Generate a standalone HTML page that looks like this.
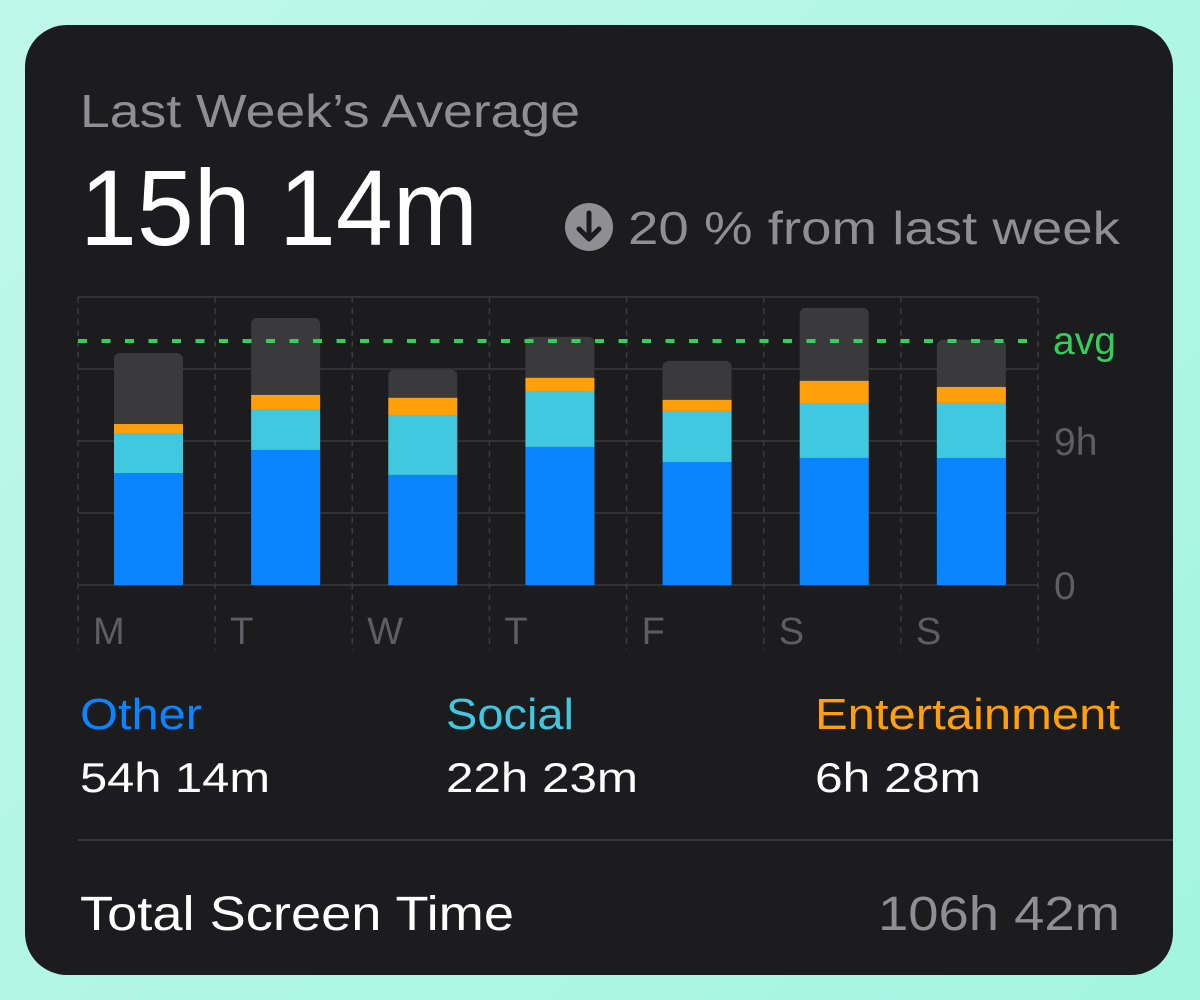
<!DOCTYPE html>
<html><head><meta charset="utf-8"><style>
html,body{margin:0;padding:0;width:1200px;height:1000px;overflow:hidden;background:linear-gradient(135deg,#bff7ea,#a3f5e0);}
svg{display:block}
text{font-family:"Liberation Sans",sans-serif}
</style></head><body>
<svg id="svg" width="1200" height="1000">
<rect x="25" y="25" width="1148" height="950" rx="42" fill="#1c1c1e"/>
<text x="80" y="127" font-size="46" fill="#8e8e93" textLength="500" lengthAdjust="spacingAndGlyphs">Last Week’s Average</text>
<text x="80" y="245" font-size="108" fill="#ffffff" textLength="398" lengthAdjust="spacingAndGlyphs">15h 14m</text>
<g>
<circle cx="589" cy="227" r="24" fill="#8e8e93"/>
<path d="M589 213 V238 M579 229 L589 239 L599 229" stroke="#1c1c1e" stroke-width="5" fill="none" stroke-linecap="round" stroke-linejoin="round"/>
<text x="628" y="244" font-size="46" fill="#8e8e93" textLength="492" lengthAdjust="spacingAndGlyphs">20 % from last week</text>
</g>
<g id="chart"></g>
<g>
<text x="80" y="729" font-size="44" fill="#0a84ff" textLength="122" lengthAdjust="spacingAndGlyphs">Other</text>
<text x="80" y="792" font-size="42" fill="#ffffff" textLength="190" lengthAdjust="spacingAndGlyphs">54h 14m</text>
<text x="446" y="729" font-size="44" fill="#40c8e0" textLength="128" lengthAdjust="spacingAndGlyphs">Social</text>
<text x="446" y="792" font-size="42" fill="#ffffff" textLength="192" lengthAdjust="spacingAndGlyphs">22h 23m</text>
<text x="815" y="729" font-size="44" fill="#ff9f0a" textLength="305" lengthAdjust="spacingAndGlyphs">Entertainment</text>
<text x="815" y="792" font-size="42" fill="#ffffff" textLength="166" lengthAdjust="spacingAndGlyphs">6h 28m</text>
</g>
<line x1="78" y1="840" x2="1173" y2="840" stroke="#38383a" stroke-width="2"/>
<text x="80" y="930" font-size="48" fill="#ffffff" textLength="434" lengthAdjust="spacingAndGlyphs">Total Screen Time</text>
<text x="1120" y="930" font-size="48" fill="#8e8e93" text-anchor="end" textLength="242" lengthAdjust="spacingAndGlyphs">106h 42m</text>
</svg>
<script>
const days=["M","T","W","T","F","S","S"];
const other=[7.0,8.44,6.88,8.63,7.69,7.94,7.94];
const social=[2.5,2.56,3.69,3.44,3.19,3.38,3.44];
const entertainment=[0.56,0.88,1.13,0.88,0.69,1.44,1.0];
const rest=[4.44,4.81,1.75,2.56,2.44,4.56,2.94];
const yTicks=[0,9];
const yTickLabels=["0","9h"];
const gridValues=[0,4.5,9,13.5,18];
const avgValue=15.25;

const NS="http://www.w3.org/2000/svg";
const chartG=document.getElementById("chart");
const plotLeft=78,plotRight=1038,plotBottom=585,plotTop=297,maxV=18;
const colW=(plotRight-plotLeft)/days.length;
const yScale=v=>plotBottom-(v/maxV)*(plotBottom-plotTop);
const xScale=i=>plotLeft+i*colW;
function mk(tag,attrs){const e=document.createElementNS(NS,tag);for(const k in attrs)e.setAttribute(k,attrs[k]);chartG.appendChild(e);return e;}
gridValues.forEach(v=>{
 const l=mk("line",{x1:plotLeft,x2:plotRight,y1:yScale(v),y2:yScale(v),stroke:"#3a3a3c","stroke-width":1.5});
 
 
});
for(let i=0;i<=days.length;i++){
 const l=mk("line",{x1:xScale(i),x2:xScale(i),y1:plotTop,y2:650,stroke:"#3a3a3c","stroke-width":1.5,"stroke-dasharray":"6 5"});
 
 
}
const bw=69,off=36;
days.forEach((d,i)=>{
 const bx=xScale(i)+off;
 const total=other[i]+social[i]+entertainment[i]+rest[i];
 const bg=mk("rect",{x:bx,y:yScale(total),width:bw,height:plotBottom-yScale(total)-10,rx:6,fill:"#3a3a3c"});
 
 
 let base=0;
 [[other,"#0a84ff","bar-other"],[social,"#40c8e0","bar-social"],[entertainment,"#ff9f0a","bar-entertainment"]].forEach(([arr,c,n])=>{
  const r=mk("rect",{x:bx,y:yScale(base+arr[i]),width:bw,height:yScale(base)-yScale(base+arr[i]),fill:c});
  
  
  base+=arr[i];
 });
 const t=mk("text",{x:xScale(i)+15,y:644,"font-size":38,fill:"#5e5e62"});
 t.textContent=d;
 
 
});
yTicks.forEach((v,i)=>{
 const t=mk("text",{x:1054,y:yScale(v)+14,"font-size":39,fill:"#5e5e62"});
 t.textContent=yTickLabels[i];
 
 
});
const al=mk("line",{x1:plotLeft,x2:plotRight,y1:yScale(avgValue),y2:yScale(avgValue),stroke:"#30d158","stroke-width":4,"stroke-dasharray":"9 14.5"});


const at=mk("text",{x:1053,y:yScale(avgValue)+13,"font-size":39,fill:"#30d158"});
at.textContent="avg";


</script>
</body></html>
